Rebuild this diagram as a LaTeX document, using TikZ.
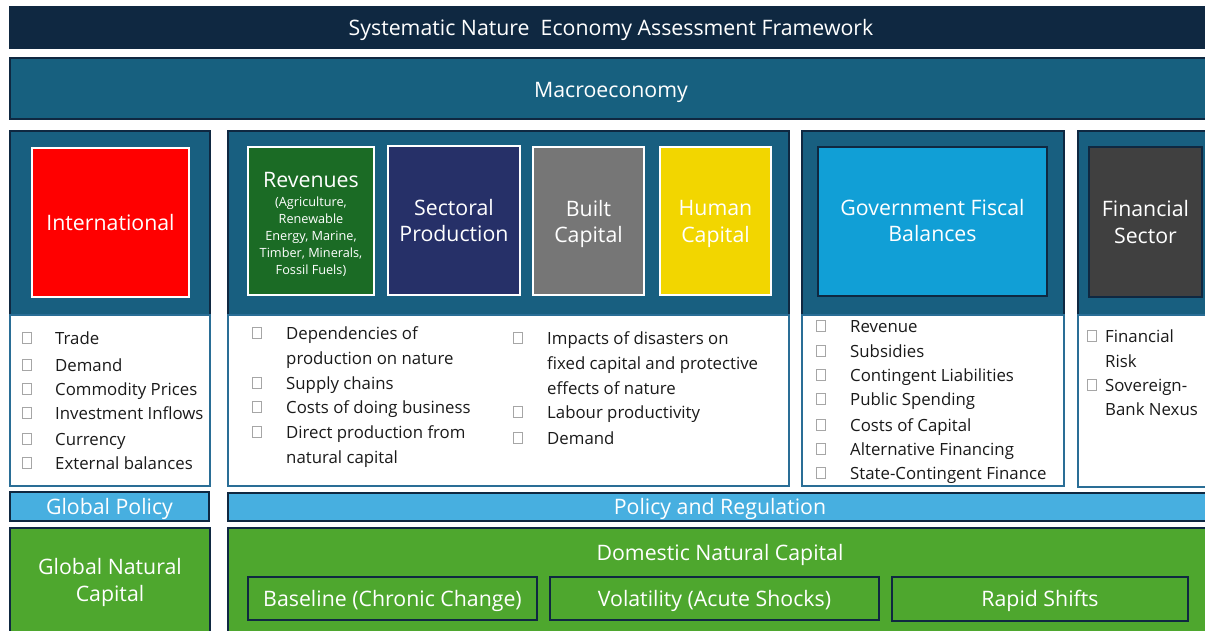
\documentclass[tikz,border=0pt]{standalone}
\usepackage{fontspec}
\setmainfont{Open Sans}
\definecolor{navy}{HTML}{0F2841}
\definecolor{macro}{HTML}{17607F}
\definecolor{panelblue}{HTML}{185F80}
\definecolor{listborder}{HTML}{2A6E96}
\definecolor{intred}{HTML}{FF0000}
\definecolor{revgreen}{HTML}{1B6B25}
\definecolor{secnavy}{HTML}{263068}
\definecolor{builtgrey}{HTML}{767676}
\definecolor{humanyellow}{HTML}{F2D600}
\definecolor{govblue}{HTML}{119FD6}
\definecolor{fingrey}{HTML}{404040}
\definecolor{policyblue}{HTML}{47AFE0}
\definecolor{natgreen}{HTML}{4EA72E}
\definecolor{bultext}{HTML}{1A1A1A}
\newcommand\rbox[7]{\node[#1, minimum width={#4-#2}, minimum height={#5-#3}, inner sep=0pt, outer sep=0pt] (#6) at ({(#2+#4)/2},{(#3+#5)/2}) {#7};}
\begin{document}
\begin{tikzpicture}[x=1pt,y=-1pt,
  big/.style={font=\fontsize{21.3}{26.5}\selectfont, text=white, align=center},
  big1/.style={big, text height=15.2pt, text depth=0pt},
  panel/.style={fill=panelblue, draw=navy, line width=1.2pt},
  listbox/.style={fill=white, draw=listborder, line width=1.5pt},
  inbox/.style={draw=white, line width=1.5pt},
  darkin/.style={draw=navy, line width=1.5pt},
  cbox/.style={draw=black!35, line width=0.6pt},
  bul/.style={anchor=west, inner sep=0pt, font=\fontsize{16.8}{20}\selectfont, text height=12pt, text depth=0pt, text=bultext},
  pol/.style={fill=policyblue, draw=navy, line width=1.2pt},
  nat/.style={fill=natgreen, draw=navy, line width=1.2pt},
  sub/.style={draw=navy, line width=1.5pt, big1}
]
\useasboundingbox (0,0) rectangle (1205,630);
\clip (0,0) rectangle (1205,630);

% top banners
\rbox{fill=navy}{9}{6}{1215}{49}{title}{}
\node[big1] (titletext) at (611,28) {Systematic Nature\ \ Economy Assessment Framework};
\rbox{fill=macro, draw=navy, line width=1.2pt}{10}{58}{1215}{119}{macro}{}
\node[big1] (macrotext) at (611,90) {Macroeconomy};

% panels
\rbox{panel}{10}{131}{210}{315}{intpanel}{}
\rbox{listbox}{10}{315}{210}{486}{intlist}{}
\rbox{panel}{228}{131}{789}{315}{midpanel}{}
\rbox{listbox}{228}{315}{789}{486}{midlist}{}
\rbox{panel}{802}{131}{1064}{315}{govpanel}{}
\rbox{listbox}{802}{315}{1064}{486}{govlist}{}
\rbox{panel}{1078}{131}{1220}{315}{finpanel}{}
\rbox{listbox}{1078}{315}{1220}{487}{finlist}{}

% inner boxes
\rbox{inbox, fill=intred, big1}{32}{148}{189}{297}{intl}{International}
\rbox{inbox, fill=revgreen}{248}{147}{374}{295}{rev}{}
\node[big1] (revhead) at (311,180) {Revenues};
\node[font=\fontsize{12.7}{17}\selectfont, text=white, align=center] (revsub) at (311,237) {(Agriculture,\\Renewable\\Energy, Marine,\\Timber, Minerals,\\Fossil Fuels)};
\rbox{inbox, fill=secnavy}{388}{146}{520}{295}{sect}{}
\node[big] (secttext) at (sect.center) {Sectoral\\Production};
\rbox{inbox, fill=builtgrey}{533}{147}{644}{295}{built}{}
\node[big, yshift=-3pt] (builttext) at (built.center) {Built\\Capital};
\rbox{inbox, fill=humanyellow}{660}{147}{771}{295}{human}{}
\node[big, yshift=-3pt] (humantext) at (human.center) {Human\\Capital};
\rbox{darkin, fill=govblue}{818}{147}{1047}{296}{gov}{}
\node[big, yshift=1pt] (govtext) at (gov.center) {Government Fiscal\\Balances};
\rbox{darkin, fill=fingrey}{1089}{147}{1202}{297}{fin}{}
\node[big] (fintext) at (fin.center) {Financial\\Sector};

% bullets: international
\foreach \y/\t [count=\i] in {338/Trade, 365/Demand, 389/Commodity Prices, 413/Investment Inflows, 439/Currency, 463/External balances}{
  \draw[cbox] (22,\y-5.5) rectangle (31,\y+5.5);
  \node[bul] (ib\i) at (55,\y) {\t};
}
% bullets: middle column 1
\foreach \y in {333,383,407,432}{\draw[cbox] (252,\y-5.5) rectangle (261,\y+5.5);}
\foreach \y/\t [count=\i] in {333/Dependencies of, 358/production on nature, 383/Supply chains, 407/Costs of doing business, 432/Direct production from, 457/natural capital}{
  \node[bul] (ma\i) at (286,\y) {\t};
}
% bullets: middle column 2
\foreach \y in {338,412,438}{\draw[cbox] (513,\y-5.5) rectangle (522,\y+5.5);}
\foreach \y/\t [count=\i] in {338/Impacts of disasters on, 363/fixed capital and protective, 388/effects of nature, 412/Labour productivity, 438/Demand}{
  \node[bul] (mb\i) at (547,\y) {\t};
}
% bullets: government
\foreach \y/\t [count=\i] in {326/Revenue, 351/Subsidies, 375/Contingent Liabilities, 399/Public Spending, 425/Costs of Capital, 449/Alternative Financing, 473/State-Contingent Finance}{
  \draw[cbox] (816,\y-5.5) rectangle (825,\y+5.5);
  \node[bul] (gb\i) at (850,\y) {\t};
}
% bullets: financial
\foreach \y in {336,385}{\draw[cbox] (1087,\y-5.5) rectangle (1096,\y+5.5);}
\foreach \y/\t [count=\i] in {336/Financial, 361/Risk, 385/Sovereign-, 409/Bank Nexus}{
  \node[bul] (fb\i) at (1105,\y) {\t};
}

% policy row
\rbox{pol, big1}{10}{492}{209}{521}{gpol}{Global Policy}
\rbox{pol}{228}{493}{1220}{521}{dpol}{}
\node[big1] (dpoltext) at (720,507) {Policy and Regulation};

% natural capital row
\rbox{nat}{10}{528}{210}{645}{gnat}{}
\node[big] (gnattext) at (110,582.5) {Global Natural\\Capital};
\rbox{nat}{228}{528}{1220}{645}{dnat}{}
\node[big1] (dnattext) at (720,553) {Domestic Natural Capital};
\rbox{sub}{248}{577}{537}{620}{base}{Baseline (Chronic Change)}
\rbox{sub}{550}{577}{879}{620}{vol}{Volatility (Acute Shocks)}
\rbox{sub}{892}{577}{1188}{621}{rapid}{Rapid Shifts}
\end{tikzpicture}
\end{document}
